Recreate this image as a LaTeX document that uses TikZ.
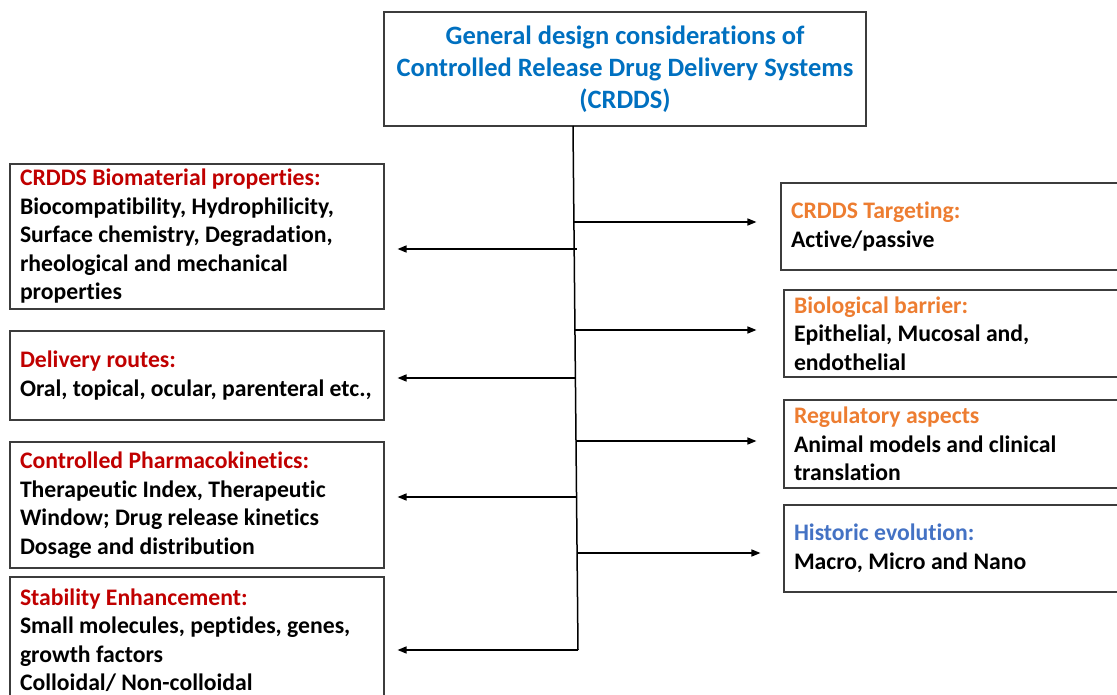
\documentclass[tikz,border=0pt]{standalone}
\usepackage{fontspec}
\setmainfont{Carlito}[Ligatures=NoCommon]
\usetikzlibrary{arrows.meta, calc}

\definecolor{titleblue}{RGB}{0,112,192}
\definecolor{histblue}{RGB}{68,114,196}
\definecolor{crred}{RGB}{192,0,0}
\definecolor{crorange}{RGB}{237,125,49}
\definecolor{boxgray}{RGB}{60,60,60}

\begin{document}
\begin{tikzpicture}[x=1pt, y=-1pt,
    topbox/.style={draw=boxgray, line width=1.1pt, align=center, minimum width=482pt,
      minimum height=114pt, text=titleblue, font=\fontsize{26.5}{32}\selectfont\bfseries},
    leftbox/.style={draw=boxgray, line width=1.1pt, align=flush left, text width=354pt,
      inner xsep=10pt, font=\fontsize{23.7}{28.5}\selectfont\bfseries},
    rightbox/.style={leftbox, text width=340pt},
    arr/.style={line width=1.5pt, -{Triangle[length=9pt,width=7pt]}}]
        \useasboundingbox (0,0) rectangle (1117,695);
        \clip (0,0) rectangle (1117,695);

        % Title box
        \node[topbox] (top) at (625,69) {General design considerations of\\
          Controlled Release Drug Delivery Systems\\(CRDDS)};

        % Left column of boxes
        \node[leftbox, minimum height=145pt] (bio) at (197,236.5)
          {\textcolor{crred}{CRDDS Biomaterial properties:}\\
           Biocompatibility, Hydrophilicity,\\Surface chemistry, Degradation,\\
           rheological and mechanical\\properties};
        \node[leftbox, minimum height=89pt] (route) at (197,375.5)
          {\textcolor{crred}{Delivery routes:}\\Oral, topical, ocular, parenteral etc.,};
        \node[leftbox, minimum height=126pt] (pk) at (197,505)
          {\textcolor{crred}{Controlled Pharmacokinetics:}\\
           Therapeutic Index, Therapeutic\\Window; Drug release kinetics\\
           Dosage and distribution};
        \node[leftbox, minimum height=126pt] (stab) at (197,640)
          {\textcolor{crred}{Stability Enhancement:}\\
           Small molecules, peptides, genes,\\growth factors\\Colloidal/ Non-colloidal};

        % Right column of boxes
        \node[rightbox, minimum height=87pt] (target) at (961,226.5)
          {\textcolor{crorange}{CRDDS Targeting:}\\Active/passive};
        \node[rightbox, minimum height=87pt] (barrier) at (964,333.5)
          {\textcolor{crorange}{Biological barrier:}\\Epithelial, Mucosal and,\\endothelial};
        \node[rightbox, minimum height=88pt] (reg) at (964,444)
          {\textcolor{crorange}{Regulatory aspects}\\Animal models and clinical\\translation};
        \node[rightbox, minimum height=87pt] (hist) at (964,548.5)
          {\textcolor{histblue}{Historic evolution:}\\Macro, Micro and Nano};

        % Trunk line and its branch points
        \coordinate (tr0) at (573,126);
        \coordinate (tr9) at (578,650);
        \draw[line width=1.5pt] (tr0) -- (tr9);
        \coordinate (jt) at (574,222);
        \coordinate (jb) at (576.5,249);
        \coordinate (jr) at (575,330);
        \coordinate (jd) at (575.5,378);
        \coordinate (jg) at (576,441);
        \coordinate (jp) at (576.5,497);
        \coordinate (jh) at (577,553);

        % Arrows to the left
        \draw[arr] (jb) -- ($(jb -| bio.east)+(13,0)$);
        \draw[arr] (jd) -- ($(jd -| route.east)+(13,0)$);
        \draw[arr] (jp) -- ($(jp -| pk.east)+(13,0)$);
        \draw[arr] (tr9) -- ($(tr9 -| stab.east)+(13,0)$);

        % Arrows to the right
        \draw[arr] (jt) -- ($(jt -| target.west)+(-24,0)$);
        \draw[arr] (jr) -- ($(jr -| barrier.west)+(-27,0)$);
        \draw[arr] (jg) -- ($(jg -| reg.west)+(-27,0)$);
        \draw[arr] (jh) -- ($(jh -| hist.west)+(-23,0)$);
\end{tikzpicture}
\end{document}
